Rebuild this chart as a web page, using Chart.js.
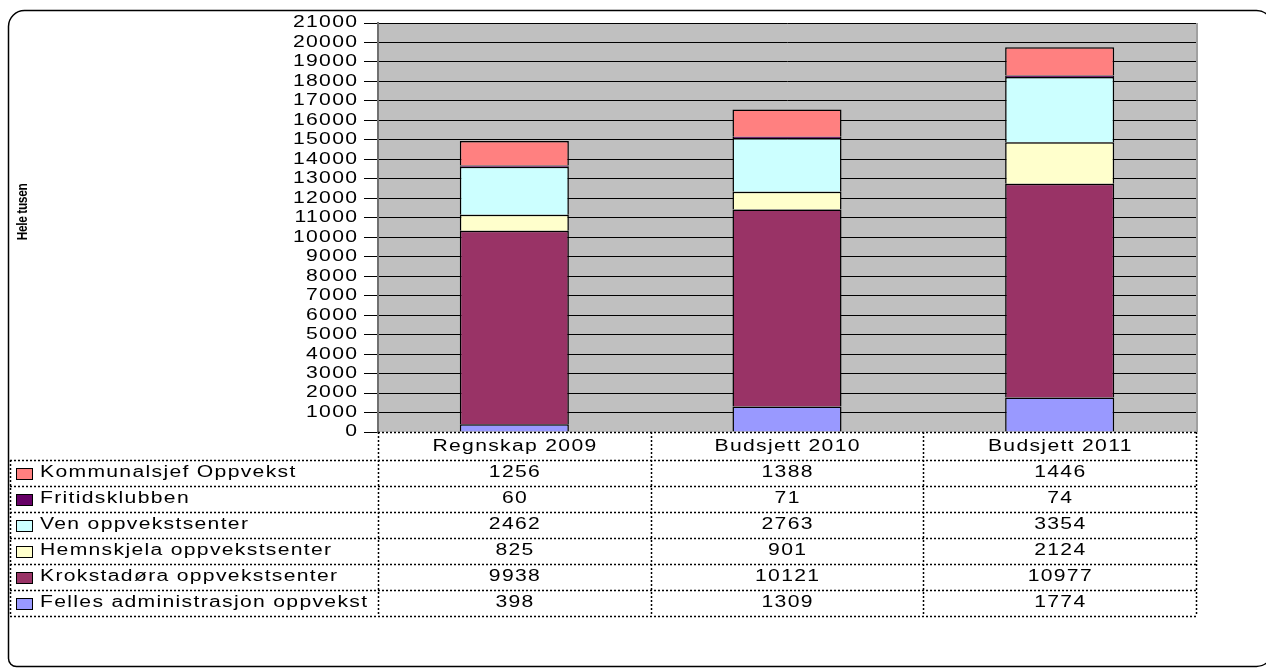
<!DOCTYPE html>
<html lang="no">
<head>
<meta charset="utf-8">
<title>Oppvekst</title>
<script src="https://cdn.jsdelivr.net/npm/chart.js@4/dist/chart.umd.min.js"></script>
<style>
  body { margin: 0; background: #fff; }
  canvas { display: block; }
</style>
</head>
<body>
<canvas id="oppvekst" width="1266" height="668"></canvas>
<script>
// Kolonner i tabellen / kategorier på x-aksen
const kategorier = ["Regnskap 2009", "Budsjett 2010", "Budsjett 2011"];

// Seriene, nederst i stabelen først
const felles = [398, 1309, 1774];
const krokstadora = [9938, 10121, 10977];
const hemnskjela = [825, 901, 2124];
const ven = [2462, 2763, 3354];
const fritidsklubben = [60, 71, 74];
const kommunalsjef = [1256, 1388, 1446];

const serieNavn = [
  "Felles administrasjon oppvekst",
  "Krokstadøra oppvekstsenter",
  "Hemnskjela oppvekstsenter",
  "Ven oppvekstsenter",
  "Fritidsklubben",
  "Kommunalsjef Oppvekst"
];
const serieVerdier = [felles, krokstadora, hemnskjela, ven, fritidsklubben, kommunalsjef];
const serieFarger = ["#9999ff", "#993366", "#ffffcc", "#ccffff", "#660066", "#ff8080"];

const yMaks = 21000;
const ySteg = 1000;
const aksetittel = "Hele tusen";

const FONT = "'Liberation Sans', Arial, sans-serif";

// Tekst litt bred, slik Excel tegner den
function tekst(ctx, str, x, y, align) {
  ctx.save();
  ctx.font = "16px " + FONT;
  ctx.letterSpacing = "1px";
  ctx.textBaseline = "middle";
  ctx.textAlign = "left";
  ctx.fillStyle = "#000";
  let b = (ctx.measureText(str).width - 1) * 1.32;
  let x0 = x;
  if (align === "center") x0 = x - b / 2;
  if (align === "right") x0 = x - b;
  ctx.translate(x0, y);
  ctx.scale(1.32, 1);
  ctx.fillText(str, 0, 0);
  ctx.restore();
}

const bakgrunn = {
  id: "bakgrunn",
  beforeDraw(chart) {
    const ctx = chart.ctx;
    const ca = chart.chartArea;
    ctx.save();
    ctx.fillStyle = "#fff";
    ctx.fillRect(0, 0, chart.width, chart.height);
    // ytre ramme
    ctx.strokeStyle = "#000";
    ctx.lineWidth = 1.5;
    ctx.beginPath();
    ctx.roundRect(8.5, 10.5, 1264, 656, [16, 16, 16, 8]);
    ctx.stroke();
    // plottområde
    ctx.fillStyle = "#c0c0c0";
    ctx.fillRect(ca.left, ca.top, ca.right - ca.left, ca.bottom - ca.top);
    ctx.restore();
  }
};

const tabell = {
  id: "tabell",
  afterDraw(chart) {
    const ctx = chart.ctx;
    const ca = chart.chartArea;
    const ys = chart.scales.y;

    ctx.save();
    // høyre kant av plottet
    ctx.strokeStyle = "#a0a0a0";
    ctx.lineWidth = 2;
    ctx.beginPath();
    ctx.moveTo(ca.right + 1, ca.top);
    ctx.lineTo(ca.right + 1, ca.bottom);
    ctx.stroke();
    ctx.restore();

    // y-verdier
    ys.ticks.forEach(t => {
      tekst(ctx, String(t.value), 357, ys.getPixelForValue(t.value), "right");
    });

    // aksetittel
    ctx.save();
    ctx.translate(23, 212);
    ctx.rotate(-Math.PI / 2);
    ctx.scale(0.8, 1);
    ctx.font = "bold 15px " + FONT;
    ctx.letterSpacing = "-0.5px";
    ctx.textAlign = "center";
    ctx.textBaseline = "middle";
    ctx.fillStyle = "#000";
    ctx.fillText(aksetittel, 0, 0);
    ctx.restore();

    // datatabell
    const venstre = 10;
    const topp = ca.bottom;
    const hodeH = 28;
    const radH = 26;
    const kolB = (ca.right - ca.left) / kategorier.length;
    const bunn = topp + hodeH + radH * serieNavn.length;

    ctx.save();
    ctx.strokeStyle = "#000";
    ctx.lineWidth = 1.5;
    ctx.setLineDash([2, 2]);
    ctx.beginPath();
    ctx.moveTo(ca.left, topp + 0.5);
    ctx.lineTo(ca.right + 1, topp + 0.5);
    for (let i = 0; i <= serieNavn.length; i++) {
      const y = Math.round(topp + hodeH + i * radH) + 0.5;
      ctx.moveTo(venstre, y);
      ctx.lineTo(ca.right + 1, y);
    }
    ctx.moveTo(venstre + 0.5, topp + hodeH);
    ctx.lineTo(venstre + 0.5, bunn);
    for (let k = 0; k <= kategorier.length; k++) {
      const x = Math.round(ca.left + k * kolB) + 0.5;
      ctx.moveTo(x, topp);
      ctx.lineTo(x, bunn);
    }
    ctx.stroke();
    ctx.restore();

    kategorier.forEach((kat, k) => {
      tekst(ctx, kat, chart.scales.x.getPixelForValue(k), topp + hodeH / 2 + 1, "center");
    });

    // rader: øverste serie først
    for (let r = 0; r < serieNavn.length; r++) {
      const s = serieNavn.length - 1 - r;
      const yMid = topp + hodeH + r * radH + radH / 2;
      ctx.save();
      ctx.fillStyle = serieFarger[s];
      ctx.strokeStyle = "#000";
      ctx.lineWidth = 1;
      ctx.fillRect(16, yMid - 5, 17, 12);
      ctx.strokeRect(16.5, yMid - 4.5, 16, 11);
      ctx.restore();
      tekst(ctx, serieNavn[s], 40, yMid, "left");
      serieVerdier[s].forEach((v, k) => {
        tekst(ctx, String(v), chart.scales.x.getPixelForValue(k), yMid, "center");
      });
    }
  }
};

const datasett = serieNavn.map((navn, i) => ({
  label: navn,
  data: serieVerdier[i],
  backgroundColor: serieFarger[i],
  borderColor: "#000",
  borderWidth: 1.5,
  barPercentage: 0.4,
  categoryPercentage: 1
}));

new Chart("oppvekst", {
  type: "bar",
  data: {
    labels: kategorier,
    datasets: datasett
  },
  options: {
    responsive: false,
    animation: false,
    layout: {
      padding: { left: 364, right: 70, top: 23, bottom: 236 }
    },
    plugins: {
      legend: { display: false },
      tooltip: { enabled: false }
    },
    scales: {
      x: {
        stacked: true,
        display: false
      },
      y: {
        stacked: true,
        min: 0,
        max: yMaks,
        ticks: { stepSize: ySteg, display: false },
        grid: {
          color: c => (c.tick && c.tick.value === 0 ? "rgba(0,0,0,0)" : "#000"),
          tickColor: "#000",
          tickLength: 14,
          lineWidth: 1
        },
        border: { display: true, color: "#707070", width: 2 }
      }
    }
  },
  plugins: [bakgrunn, tabell]
});
</script>
</body>
</html>
